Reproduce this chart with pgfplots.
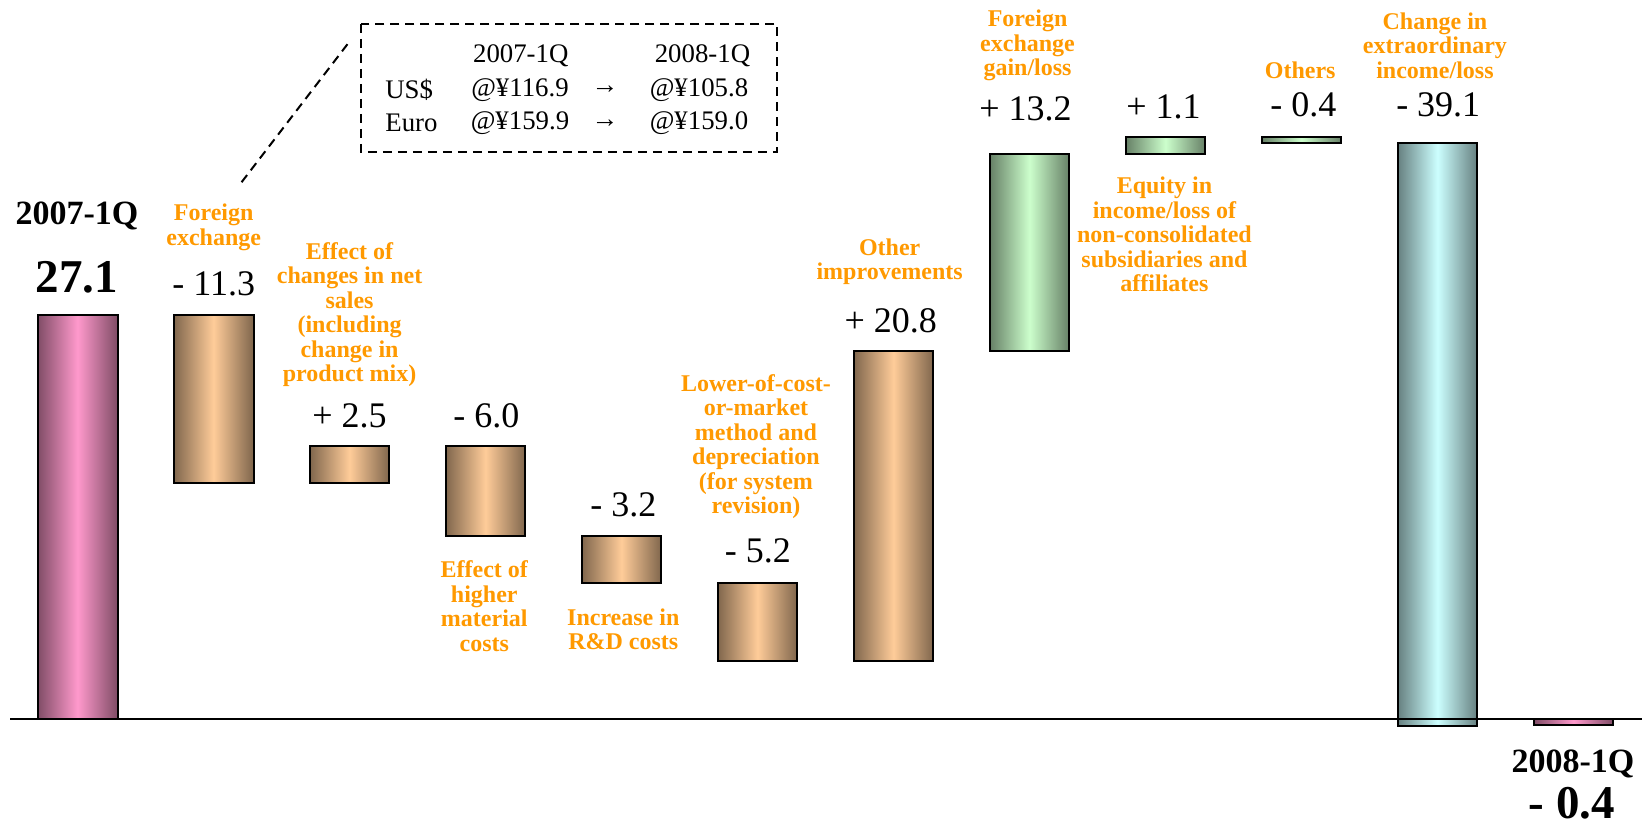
\documentclass[border=0pt]{standalone}
\usepackage{pgfplots}
\pgfplotsset{compat=1.18}
\usepackage{fontspec}
\setmainfont{Liberation Serif}
\definecolor{pinkL}{HTML}{FF99CC}
\definecolor{orangeL}{HTML}{FFCC99}
\definecolor{greenL}{HTML}{CCFFCC}
\definecolor{cyanL}{HTML}{CCFFFF}
\definecolor{lblorange}{HTML}{FF9900}
\tikzset{
 wbar/.style={draw=black, line width=1bp, left color=#1!50!black, right color=#1!50!black, middle color=#1},
 olab/.style={text=lblorange, font=\fontsize{12bp}{12.25bp}\selectfont\bfseries, align=center, inner sep=0pt},
 vlab/.style={font=\fontsize{18bp}{20bp}\selectfont, inner sep=0pt},
 blab/.style={font=\fontsize{13.4bp}{15bp}\selectfont, inner sep=0pt},
 klab/.style={font=\fontsize{17bp}{19bp}\selectfont\bfseries, inner sep=0pt},
 nlab/.style={font=\fontsize{23.5bp}{25bp}\selectfont\bfseries, inner sep=0pt},
}
\begin{document}
\begin{tikzpicture}
\begin{axis}[x=68bp, y=7.455bp, xmin=-0.57, xmax=11.57, ymin=-7.445, ymax=48.22,
  enlargelimits=false, hide axis, clip=false]
% waterfall bars: x centre +- 0.294, from lower to upper value
\addplot[wbar=pinkL]   coordinates {(-0.294,0) (0.294,0) (0.294,27.1) (-0.294,27.1)} -- cycle;
\addplot[wbar=orangeL] coordinates {(0.706,15.8) (1.294,15.8) (1.294,27.1) (0.706,27.1)} -- cycle;
\addplot[wbar=orangeL] coordinates {(1.706,15.8) (2.294,15.8) (2.294,18.3) (1.706,18.3)} -- cycle;
\addplot[wbar=orangeL] coordinates {(2.706,12.3) (3.294,12.3) (3.294,18.3) (2.706,18.3)} -- cycle;
\addplot[wbar=orangeL] coordinates {(3.706,9.1) (4.294,9.1) (4.294,12.3) (3.706,12.3)} -- cycle;
\addplot[wbar=orangeL] coordinates {(4.706,3.9) (5.294,3.9) (5.294,9.1) (4.706,9.1)} -- cycle;
\addplot[wbar=orangeL] coordinates {(5.706,3.9) (6.294,3.9) (6.294,24.7) (5.706,24.7)} -- cycle;
\addplot[wbar=greenL]  coordinates {(6.706,24.7) (7.294,24.7) (7.294,37.9) (6.706,37.9)} -- cycle;
\addplot[wbar=greenL]  coordinates {(7.706,37.9) (8.294,37.9) (8.294,39.0) (7.706,39.0)} -- cycle;
\addplot[wbar=greenL]  coordinates {(8.706,38.6) (9.294,38.6) (9.294,39.0) (8.706,39.0)} -- cycle;
\addplot[wbar=cyanL]   coordinates {(9.706,-0.5) (10.294,-0.5) (10.294,38.6) (9.706,38.6)} -- cycle;
\addplot[wbar=pinkL]   coordinates {(10.706,-0.4) (11.294,-0.4) (11.294,0) (10.706,0)} -- cycle;
% baseline
\addplot[black, line width=1bp] coordinates {(-0.493,0) (11.5,0)};
\coordinate (TL) at (rel axis cs:0,1);
\coordinate (BR) at (rel axis cs:1,0);
\end{axis}
\begin{scope}[shift={(TL)}, x=0.5bp, y=-0.5bp]
 % start / end labels
 \node[klab] at (77,216) {2007-1Q};
 \node[nlab] at (77,277) {27.1};
 \node[klab] at (1573,764) {2008-1Q};
 \node[nlab] at (1572,803) {- 0.4};
 % value labels
 \node[vlab] at (213.7,284) {- 11.3};
 \node[vlab] at (349.6,416) {+ 2.5};
 \node[vlab] at (486.4,416) {- 6.0};
 \node[vlab] at (623.3,505) {- 3.2};
 \node[vlab] at (758,550.7) {- 5.2};
 \node[vlab] at (890.8,321) {+ 20.8};
 \node[vlab] at (1025.5,108.4) {+ 13.2};
 \node[vlab] at (1163.5,107) {+ 1.1};
 \node[vlab] at (1303.5,104.7) {- 0.4};
 \node[vlab] at (1438.3,104.7) {- 39.1};
 % category labels
 \node[olab] at (213.7,227.3) {Foreign\\exchange};
 \node[olab] at (349.6,314.7) {Effect of\\changes in net\\sales\\(including\\change in\\product mix)};
 \node[olab] at (484.3,606.3) {Effect of\\higher\\material\\costs};
 \node[olab] at (623.3,629.5) {Increase in\\R\&D costs};
 \node[olab] at (756,446.8) {Lower-of-cost-\\or-market\\method and\\depreciation\\(for system\\revision)};
 \node[olab] at (889.7,261.5) {Other\\improvements};
 \node[olab] at (1027.6,45.6) {Foreign\\exchange\\gain/loss};
 \node[olab] at (1164.5,234.6) {Equity in\\income/loss of\\non-consolidated\\subsidiaries and\\affiliates};
 \node[olab] at (1300.3,70.4) {Others};
 \node[olab] at (1435,45.6) {Change in\\extraordinary\\income/loss};
 % exchange-rate box
 \draw[line width=1bp, dash pattern=on 4.5bp off 3bp] (360.7,24) rectangle (777.3,151.7);
 \draw[line width=1bp, dash pattern=on 4.5bp off 3bp] (347.5,44.2) -- (240,184.3);
 \node[blab] at (520.8,55.3) {2007-1Q};
 \node[blab] at (702.5,55.3) {2008-1Q};
 \node[blab, anchor=west] at (385,90) {US\$};
 \node[blab] at (520,90) {@¥116.9};
 \node[blab] at (605,90) {→};
 \node[blab] at (699,90) {@¥105.8};
 \node[blab, anchor=west] at (385,123.3) {Euro};
 \node[blab] at (520,123.3) {@¥159.9};
 \node[blab] at (605,123.3) {→};
 \node[blab] at (699,123.3) {@¥159.0};
\end{scope}
\pgfresetboundingbox
\path[use as bounding box] (TL) rectangle (BR);
\end{tikzpicture}
\end{document}
